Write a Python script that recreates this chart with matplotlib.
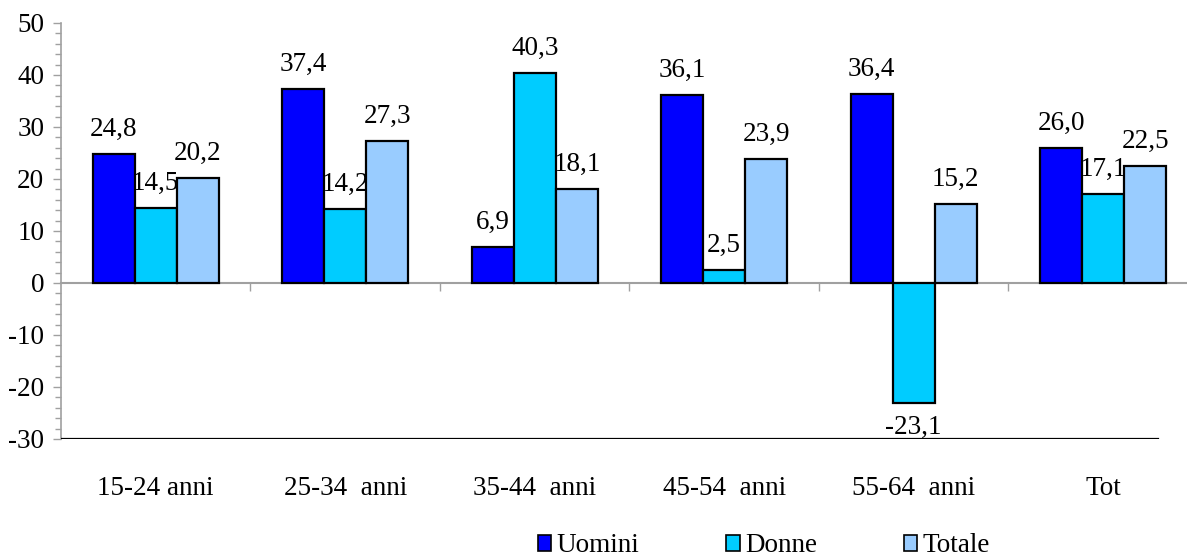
import numpy as np
import matplotlib
matplotlib.use("Agg")
import matplotlib.pyplot as plt
from matplotlib.patches import Patch
from matplotlib.ticker import MultipleLocator, FixedLocator, NullFormatter

plt.rcParams['font.family'] = ['Liberation Serif', 'DejaVu Serif']
plt.rcParams['axes.unicode_minus'] = False

categories = ["15-24 anni", "25-34  anni", "35-44  anni", "45-54  anni", "55-64  anni", "Tot"]
series_names = ["Uomini", "Donne", "Totale"]
uomini = [24.8, 37.4, 6.9, 36.1, 36.4, 26.0]
donne = [14.5, 14.2, 40.3, 2.5, -23.1, 17.1]
totale = [20.2, 27.3, 18.1, 23.9, 15.2, 22.5]
colors = ["#0000FF", "#00CCFF", "#99CCFF"]

fig = plt.figure(figsize=(11.87, 5.57), dpi=100)
W, H = 1187, 557
ax = fig.add_axes([61 / W, 1 - 439 / H, 1137 / W, (439 - 23) / H])

x = np.arange(len(categories))
bw = 0.222
fs = 19.5
gray = "#A0A0A0"

for k, (vals, col) in enumerate(zip([uomini, donne, totale], colors)):
    pos = x + (k - 1) * bw
    ax.bar(pos, vals, width=bw, color=col, edgecolor="black", linewidth=1.6, zorder=3)
    for px, v in zip(pos, vals):
        txt = f"{v:.1f}".replace(".", ",")
        if v >= 0:
            ax.annotate(txt, (px, v), xytext=(0, 13), textcoords="offset points",
                        ha="center", va="baseline", fontsize=fs)
        else:
            ax.annotate(txt, (px, v), xytext=(0, -22), textcoords="offset points",
                        ha="center", va="baseline", fontsize=fs)

ax.set_xlim(-0.5, 5.5)
ax.set_ylim(-30, 50)

# y axis
ax.yaxis.set_major_locator(MultipleLocator(10))
ax.yaxis.set_minor_locator(MultipleLocator(2))
ax.tick_params(axis="y", which="major", direction="out", length=6, width=1,
               color=gray, labelsize=fs, pad=6)
ax.tick_params(axis="y", which="minor", direction="out", length=4, width=1, color=gray)
ax.spines["left"].set_color(gray)
ax.spines["left"].set_linewidth(1.2)

# x axis at zero
ax.spines["bottom"].set_position(("data", 0))
ax.spines["bottom"].set_color(gray)
ax.spines["bottom"].set_linewidth(1.5)
ax.spines["top"].set_visible(False)
ax.spines["right"].set_visible(False)
ax.xaxis.set_major_locator(FixedLocator(x[:-1] + 0.5))
ax.xaxis.set_major_formatter(NullFormatter())
ax.tick_params(axis="x", which="major", direction="out", length=6, width=1, color=gray)

ax.axhline(-30, xmin=0, xmax=0.965, color="black", linewidth=1.6, zorder=4)

for xi, lab in zip(x, categories):
    ax.text(xi, -0.12, lab, transform=ax.get_xaxis_transform(), ha="center",
            va="center", fontsize=fs)

handles = [Patch(facecolor=c, edgecolor="black", linewidth=1.2) for c in colors]
fig.legend(handles, series_names, loc="center", bbox_to_anchor=(764 / W, 1 - 546 / H),
           ncol=3, frameon=False, fontsize=fs, handlelength=0.5, handleheight=0.5,
           handletextpad=0.2, columnspacing=3.2, borderpad=0)

fig.savefig("out.png", dpi=100)
